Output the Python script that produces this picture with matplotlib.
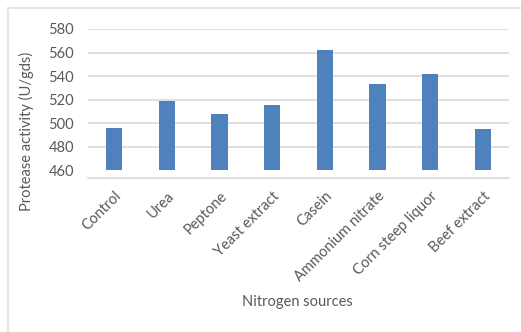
import matplotlib
matplotlib.use("Agg")
import matplotlib.pyplot as plt
import matplotlib.transforms as mtransforms
from matplotlib.lines import Line2D

# Protease activity for each nitrogen source
sources = ["Control", "Urea", "Peptone", "Yeast extract", "Casein",
           "Ammonium nitrate", "Corn steep liquor", "Beef extract"]
activity = [496, 519, 508, 515, 562, 533, 542, 495]
y_ticks = [460, 480, 500, 520, 540, 560, 580]

text_color = "#595959"
grid_color = "#D9D9D9"
bar_color = "#4F81BD"

plt.rcParams["font.family"] = ["Lato", "DejaVu Sans"]

W, H = 521, 332
fig = plt.figure(figsize=(W / 100, H / 100), dpi=100)
ax = fig.add_axes([88 / W, 1 - 178 / H, (509 - 88) / W, (178 - 29) / H])

x = range(len(sources))
ax.bar(x, [v - 460 for v in activity], bottom=460, width=0.31,
       color=bar_color, zorder=3)

ax.set_xlim(-0.5, len(sources) - 0.5)
ax.set_ylim(453.2, 580)
ax.set_yticks(y_ticks)
ax.yaxis.grid(True, color=grid_color, linewidth=1.2, zorder=0)
ax.get_ygridlines()[0].set_visible(False)

for side in ["left", "right", "top"]:
    ax.spines[side].set_visible(False)
ax.spines["bottom"].set_color(grid_color)
ax.spines["bottom"].set_linewidth(1.2)
ax.tick_params(length=0, colors=text_color)
ax.tick_params(axis="y", labelsize=10.5, pad=10)
ax.tick_params(axis="x", labelsize=10.5)

ax.set_xticks(list(x))
ax.set_xticklabels(sources, rotation=45, ha="right", rotation_mode="anchor")
shift = mtransforms.ScaledTranslation(0 / 100, -6 / 100, fig.dpi_scale_trans)
for lbl in ax.get_xticklabels():
    lbl.set_transform(lbl.get_transform() + shift)

ax.set_ylabel("Protease activity (U/gds)", color=text_color, fontsize=10.5)
ax.yaxis.set_label_coords(-0.128, 0.315)
fig.text(297 / W, 1 - 302 / H, "Nitrogen sources", color=text_color,
         fontsize=10.5, ha="center", va="center")

# light frame around the chart area
frame = dict(color="#E6E6E6", linewidth=1.5, transform=fig.transFigure)
fig.add_artist(Line2D([7.5 / W, 7.5 / W], [0, 1 - 8 / H], **frame))
fig.add_artist(Line2D([7.5 / W, 1], [1 - 8 / H, 1 - 8 / H], **frame))

fig.savefig("out.png", dpi=100)
